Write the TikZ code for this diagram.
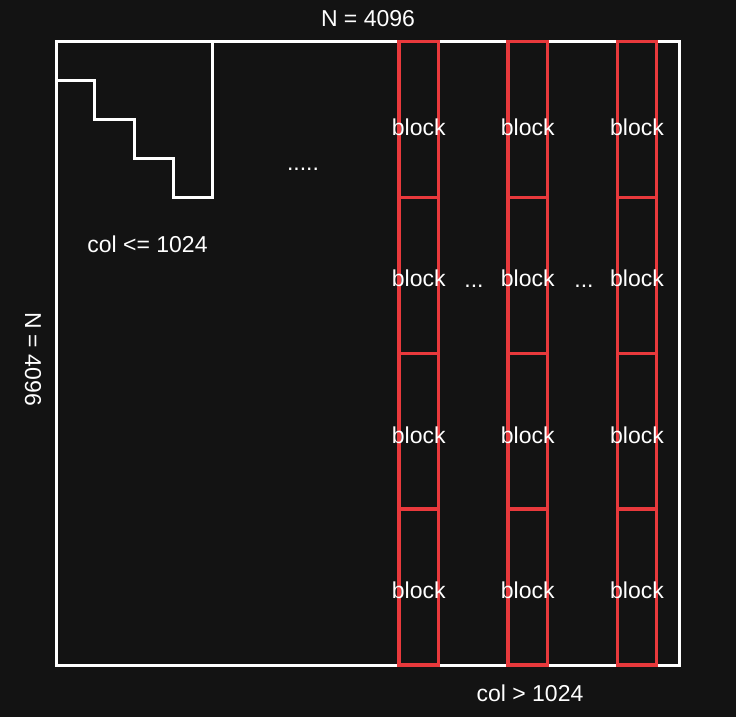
\documentclass[tikz,border=0pt]{standalone}
\usepackage{fontspec}
\setmainfont{Liberation Sans}
\definecolor{bg}{HTML}{131313}
\definecolor{redline}{RGB}{232,57,60}
\begin{document}
\begin{tikzpicture}[x=1pt,y=-1pt,
  lbl/.style={text=white,font=\fontsize{23}{27}\selectfont,inner sep=0pt,outer sep=0pt},
  whiteline/.style={draw=white,line width=3pt},
  blockbox/.style={draw=redline,line width=3.3pt,minimum width=39.5pt,minimum height=155.875pt,inner sep=0pt,outer sep=0pt}]
\fill[bg] (0,0) rectangle (736,717);
\useasboundingbox (0,0) rectangle (736,717);
% outer matrix
\node[whiteline,minimum width=623pt,minimum height=623.5pt,inner sep=0pt,outer sep=0pt] (mat) at (368,353.25) {};
% staircase
\coordinate (s0) at (56.5,80);
\coordinate (s1) at (212.5,41.5);
\draw[whiteline] (s0) -- (94.5,80) -- (94.5,119) -- (134,119) -- (134,158) -- (173.5,158) -- (173.5,197.5) -- (212.5,197.5) -- (s1);
% red blocks
\foreach \c/\x in {1/418.75,2/527.75,3/637} {
  \foreach \r/\y/\t in {1/119.44/127,2/275.31/278.5,3/431.19/435,4/587.06/590.5} {
    \node[blockbox] (b\c\r) at (\x,\y) {};
    \node[lbl] (t\c\r) at (\x,\t) {block};
  }
}
% labels
\node[lbl] (ntop) at (368,18.5) {N = 4096};
\node[lbl,rotate=-90] (nleft) at (33,359) {N = 4096};
\node[lbl] (colle) at (147.5,244) {col <= 1024};
\node[lbl] (colgt) at (530,693) {col > 1024};
\node[lbl,anchor=base] (dots5) at (303,170) {.....};
\node[lbl,anchor=base] (dots1) at (474,287) {...};
\node[lbl,anchor=base] (dots2) at (584,287) {...};
\end{tikzpicture}
\end{document}
